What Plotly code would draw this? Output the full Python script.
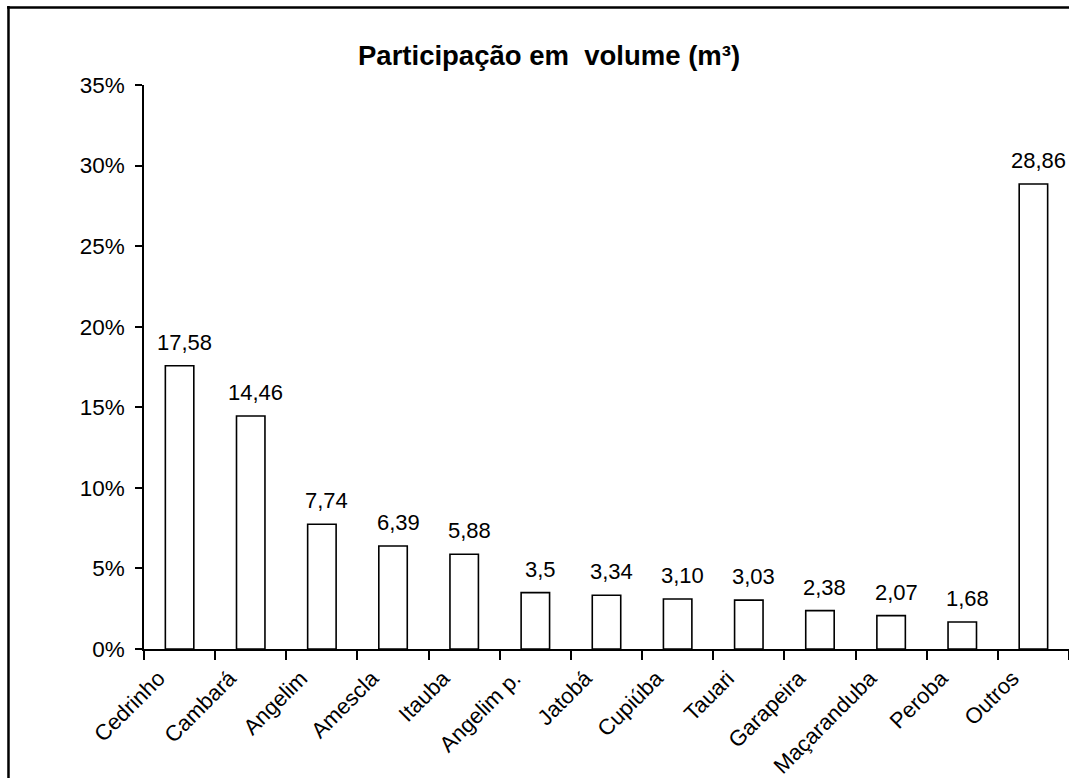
import plotly.graph_objects as go

# Espécies e participação em volume (%)
especies = ["Cedrinho", "Cambará", "Angelim", "Amescla", "Itauba", "Angelim p.",
            "Jatobá", "Cupiúba", "Tauari", "Garapeira", "Maçaranduba", "Peroba", "Outros"]
rotulos = ["17,58", "14,46", "7,74", "6,39", "5,88", "3,5",
           "3,34", "3,10", "3,03", "2,38", "2,07", "1,68", "28,86"]
participacao = [float(r.replace(",", ".")) for r in rotulos]

y_ticks = [0, 5, 10, 15, 20, 25, 30, 35]

FONT = "Liberation Sans, Arial, sans-serif"

fig = go.Figure()
fig.add_trace(go.Bar(
    x=especies,
    y=participacao,
    marker=dict(color="white", line=dict(color="black", width=1.6)),
    hoverinfo="skip",
))

# rótulos de valor acima das barras
for esp, val, txt in zip(especies, participacao, rotulos):
    fig.add_annotation(
        x=esp, y=val, text=txt, showarrow=False,
        xanchor="center", yanchor="bottom", yshift=9, xshift=5,
        font=dict(family=FONT, size=22, color="black"),
    )

# moldura do gráfico (topo e lado esquerdo)
fig.add_shape(type="line", xref="paper", yref="paper",
              x0=-0.148, x1=1.2, y0=1.1375, y1=1.1375,
              line=dict(color="black", width=2.5))
fig.add_shape(type="line", xref="paper", yref="paper",
              x0=-0.1465, x1=-0.1465, y0=1.14, y1=-0.5,
              line=dict(color="black", width=2.5))

fig.update_layout(
    width=1069, height=778,
    margin=dict(l=144, r=0, t=85, b=129),
    paper_bgcolor="white", plot_bgcolor="white",
    showlegend=False,
    bargap=0.6,
    font=dict(family=FONT, color="black"),
    title=dict(
        text="<b>Participação em\u00a0 volume (m³)</b>",
        font=dict(family=FONT, size=27.5, color="black"),
        x=0.5136, xref="container", xanchor="center",
        y=0.929, yref="container", yanchor="middle",
    ),
    xaxis=dict(
        type="category",
        tickson="boundaries",
        ticks="outside", ticklen=9, tickwidth=1.5, tickcolor="black",
        showline=True, linecolor="black", linewidth=1.5,
        showgrid=False,
        tickangle=-45,
        ticklabelshift=-21,
        ticklabelstandoff=6,
        tickfont=dict(family=FONT, size=22, color="black"),
    ),
    yaxis=dict(
        range=[0, 35],
        tickvals=y_ticks,
        ticktext=[f"{v}%" for v in y_ticks],
        ticks="outside", ticklen=7, tickwidth=1.5, tickcolor="black",
        showline=True, linecolor="black", linewidth=1.5,
        showgrid=False, zeroline=False,
        ticklabelstandoff=6,
        tickfont=dict(family=FONT, size=22.5, color="black"),
    ),
)

fig.write_html("out.html")
